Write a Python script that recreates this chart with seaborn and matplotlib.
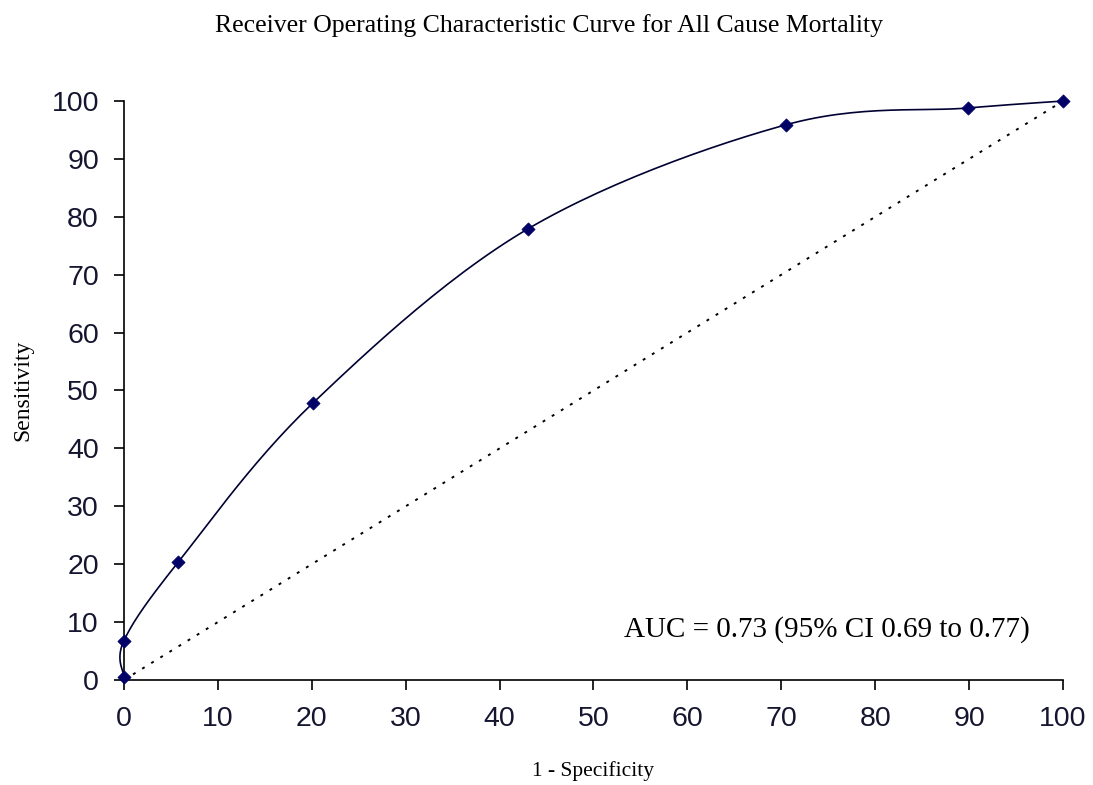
import numpy as np
import pandas as pd
import matplotlib
matplotlib.use('Agg')
import matplotlib.pyplot as plt
import seaborn as sns

# ROC points (percent)
one_minus_spec = [0.0, 0.0, 5.8, 20.1, 43.0, 70.5, 89.9, 100.0]
sensitivity = [0.5, 6.8, 20.4, 47.8, 77.9, 95.9, 98.8, 100.0]
ref_line = [0, 100]
x_ticks = list(range(0, 101, 10))
y_ticks = list(range(0, 101, 10))
auc_text = "AUC = 0.73 (95% CI 0.69 to 0.77)"


def smooth(xs, ys, n=30):
    # Catmull-Rom style smoothing, similar to the spreadsheet "smoothed line"
    px = [xs[0]] + list(xs) + [xs[-1]]
    py = [ys[0]] + list(ys) + [ys[-1]]
    out_x, out_y = [], []
    for i in range(1, len(px) - 2):
        t = np.linspace(0, 1, n)
        for arr, out in ((px, out_x), (py, out_y)):
            p0, p1, p2, p3 = arr[i - 1], arr[i], arr[i + 1], arr[i + 2]
            m1 = (p2 - p0) / 6.0
            m2 = (p3 - p1) / 6.0
            c1 = p1 + m1
            c2 = p2 - m2
            out.extend((1 - t) ** 3 * p1 + 3 * (1 - t) ** 2 * t * c1 + 3 * (1 - t) * t ** 2 * c2 + t ** 3 * p2)
    return out_x, out_y


sns.set_style("ticks")
plt.rcParams['font.family'] = ['Liberation Sans', 'DejaVu Sans']
plt.rcParams['text.color'] = 'black'

fig = plt.figure(figsize=(10.93, 7.85), dpi=100)
ax = fig.add_axes([0.1134, 0.1338, 0.8592, 0.7375])

df = pd.DataFrame({"x": one_minus_spec, "y": sensitivity})
sx, sy = smooth(one_minus_spec, sensitivity)
ax.plot(sx, sy, color="#000033", linewidth=1.2, clip_on=False)
sns.scatterplot(data=df, x="x", y="y", ax=ax, marker="D", s=45, color="#000066",
                edgecolor="#000066", clip_on=False, zorder=5)
sns.lineplot(x=ref_line, y=ref_line, ax=ax, color="black", linestyle=(0, (1.5, 4)),
             linewidth=1.4, clip_on=False)

ax.set_xlim(0, 100)
ax.set_ylim(0, 100)
ax.set_xticks(x_ticks)
ax.set_yticks(y_ticks)
ax.tick_params(axis="both", labelsize=20.5, length=7, width=1.2, color="black",
               labelcolor="#151530")
ax.tick_params(axis="x", pad=12)
ax.tick_params(axis="y", pad=11)
for side in ["top", "right"]:
    ax.spines[side].set_visible(False)
for side in ["left", "bottom"]:
    ax.spines[side].set_color("black")
    ax.spines[side].set_linewidth(1.2)

serif = ['Liberation Serif', 'DejaVu Serif']
ax.set_xlabel("1 - Specificity", family=serif, fontsize=15.5, labelpad=21, color="black")
ax.set_ylabel("Sensitivity", family=serif, fontsize=17, labelpad=13, color="black")
fig.suptitle("Receiver Operating Characteristic Curve for All Cause Mortality",
             family=serif, fontsize=18.5, x=0.502, y=0.982, color="black")
ax.text(96.5, 8.7, auc_text, family=serif, fontsize=21, ha="right", va="center",
        color="black")

fig.savefig("out.png", dpi=100)
